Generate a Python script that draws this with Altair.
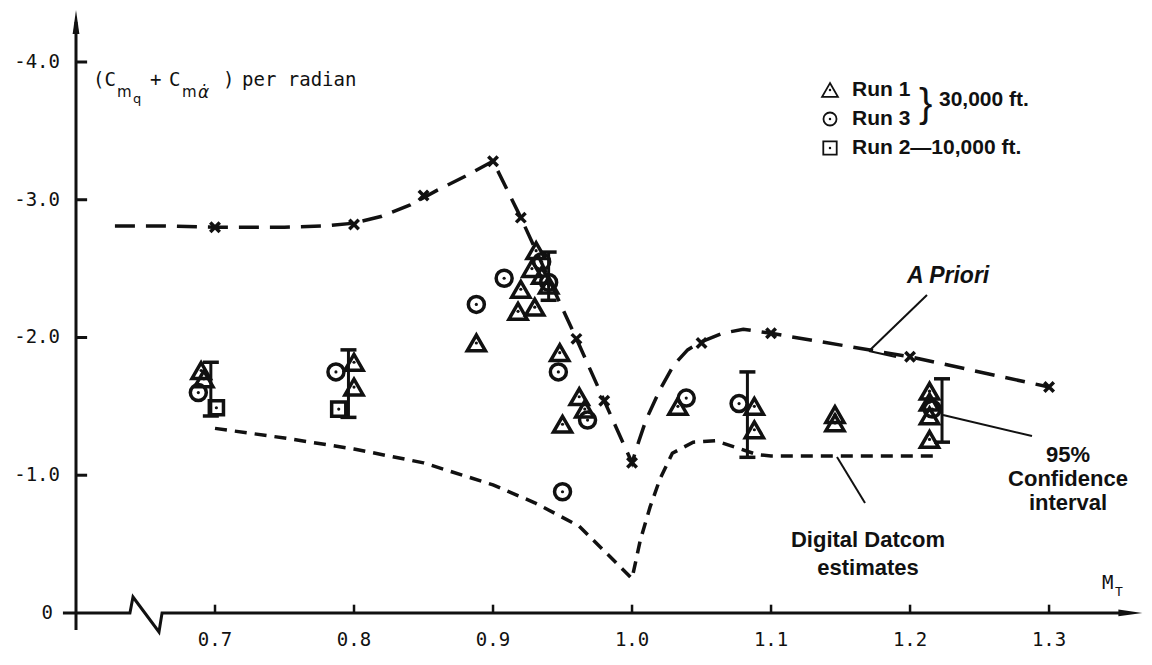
import altair as alt
import pandas as pd

INK = "#111111"

# ---------------- data ----------------
# Run 1 (triangles), 30,000 ft
run1_mach = [0.690, 0.692, 0.800, 0.800, 0.888, 0.918, 0.930, 0.920, 0.931, 0.928, 0.935, 0.940,
             0.948, 0.950, 0.962, 0.966, 1.033, 1.088, 1.088, 1.146, 1.146, 1.214, 1.214, 1.214, 1.214]
run1_cm = [-1.76, -1.70, -1.82, -1.64, -1.96, -2.19, -2.22, -2.35, -2.63, -2.50, -2.45, -2.38,
           -1.89, -1.37, -1.57, -1.48, -1.50, -1.50, -1.33, -1.44, -1.38, -1.61, -1.53, -1.43, -1.26]
# Run 3 (circles), 30,000 ft
run3_mach = [0.688, 0.787, 0.888, 0.908, 0.935, 0.940, 0.947, 0.950, 0.968, 1.039, 1.077, 1.216]
run3_cm = [-1.60, -1.75, -2.24, -2.43, -2.55, -2.40, -1.75, -0.88, -1.40, -1.56, -1.52, -1.48]
# Run 2 (squares), 10,000 ft
run2_mach = [0.701, 0.789]
run2_cm = [-1.49, -1.48]

# 95% confidence intervals
ci_mach = [0.697, 0.796, 0.940, 1.083, 1.223]
ci_low = [-1.43, -1.42, -2.27, -1.13, -1.24]
ci_high = [-1.82, -1.91, -2.62, -1.75, -1.70]

# A Priori curve (long dashes) and its x markers
ap_mach = [0.628, 0.66, 0.70, 0.75, 0.78, 0.80, 0.82, 0.84, 0.86, 0.88, 0.90, 0.92, 0.96, 0.98,
           1.00, 1.005, 1.01, 1.02, 1.03, 1.04, 1.05, 1.065, 1.08, 1.10, 1.20, 1.30]
ap_cm = [-2.81, -2.81, -2.80, -2.80, -2.81, -2.83, -2.88, -2.96, -3.07, -3.17, -3.28, -2.87, -1.99, -1.54,
         -1.09, -1.25, -1.40, -1.62, -1.80, -1.91, -1.97, -2.03, -2.06, -2.03, -1.86, -1.64]
apx_mach = [0.70, 0.80, 0.85, 0.90, 0.92, 0.96, 0.98, 1.00, 1.05, 1.10, 1.20, 1.30]
apx_cm = [-2.80, -2.82, -3.03, -3.28, -2.87, -1.99, -1.54, -1.09, -1.96, -2.03, -1.86, -1.64]

# Digital Datcom estimates (short dashes)
dc_mach = [0.70, 0.75, 0.80, 0.85, 0.90, 0.93, 0.962, 0.989, 1.00, 1.006, 1.013, 1.02, 1.029,
           1.044, 1.06, 1.075, 1.09, 1.10, 1.22]
dc_cm = [-1.34, -1.27, -1.19, -1.09, -0.93, -0.80, -0.63, -0.36, -0.25, -0.53, -0.77, -0.97, -1.16,
         -1.24, -1.25, -1.20, -1.15, -1.14, -1.14]

# axis ticks and labels
x_ticks = [0.7, 0.8, 0.9, 1.0, 1.1, 1.2, 1.3]
x_labels = ["0.7", "0.8", "0.9", "1.0", "1.1", "1.2", "1.3"]
y_ticks = [-4.0, -3.0, -2.0, -1.0]
y_labels = ["-4.0", "-3.0", "-2.0", "-1.0"]

# ---------------- scales ----------------
xs = alt.Scale(domain=[0.6, 1.3683], nice=False, zero=False)
ys = alt.Scale(domain=[-4.392, 0.16], reverse=True, nice=False, zero=False)


def X(f):
    return alt.X(f, type="quantitative", scale=xs, axis=None)


def Y(f):
    return alt.Y(f, type="quantitative", scale=ys, axis=None)


def PX(f):
    return alt.X(f, type="quantitative", scale=None, axis=None)


def PY(f):
    return alt.Y(f, type="quantitative", scale=None, axis=None)


XMARK = "M-1,-1L1,1M-1,1L1,-1"
ARROW_UP = "M0,-1L0.28,1L-0.28,1Z"
ARROW_RIGHT = "M1,0L-1,0.28L-1,-0.28Z"
CAP = "M-1,0L1,0"

layers = []

# ---------------- axes ----------------
axis_path = pd.DataFrame({
    "m": [0.5906, 0.6388, 0.641, 0.6597, 0.6619, 1.355],
    "v": [0.0, 0.0, -0.116, 0.138, 0.0, 0.0],
    "o": [0, 1, 2, 3, 4, 5],
})
layers.append(alt.Chart(axis_path).mark_line(color=INK, strokeWidth=3, strokeJoin="miter").encode(
    x=X("m"), y=Y("v"), order="o:Q"))

yaxis = pd.DataFrame({"m": [0.6], "v1": [0.124], "v2": [-4.29]})
layers.append(alt.Chart(yaxis).mark_rule(color=INK, strokeWidth=3).encode(
    x=X("m"), y=Y("v1"), y2="v2:Q"))

arrows_up = pd.DataFrame({"m": [0.6], "v": [-4.29]})
layers.append(alt.Chart(arrows_up).mark_point(shape=ARROW_UP, filled=True, color=INK, opacity=1, size=576).encode(
    x=X("m"), y=Y("v")))
arrows_r = pd.DataFrame({"m": [1.3585], "v": [0.0]})
layers.append(alt.Chart(arrows_r).mark_point(shape=ARROW_RIGHT, filled=True, color=INK, opacity=1, size=576).encode(
    x=X("m"), y=Y("v")))

xt = pd.DataFrame({"m": x_ticks, "lab": x_labels, "v0": [0.0] * 7, "v1": [-0.06] * 7})
layers.append(alt.Chart(xt).mark_rule(color=INK, strokeWidth=2.5).encode(x=X("m"), y=Y("v0"), y2="v1:Q"))
layers.append(alt.Chart(xt).mark_text(font="DejaVu Sans Mono", fontSize=19, color=INK, dy=27,
                                      align="center", baseline="middle").encode(
    x=X("m"), y=Y("v0"), text="lab:N"))

yt = pd.DataFrame({"v": y_ticks, "lab": y_labels, "m0": [0.6] * 4, "m1": [0.608] * 4})
layers.append(alt.Chart(yt).mark_rule(color=INK, strokeWidth=3).encode(x=X("m0"), x2="m1:Q", y=Y("v")))
layers.append(alt.Chart(yt).mark_text(font="DejaVu Sans Mono", fontSize=19, color=INK, dx=-16,
                                      align="right", baseline="middle").encode(
    x=X("m0"), y=Y("v"), text="lab:N"))
zero_lab = pd.DataFrame({"m": [0.6], "v": [0.0], "lab": ["0"]})
layers.append(alt.Chart(zero_lab).mark_text(font="DejaVu Sans Mono", fontSize=19, color=INK, dx=-23,
                                            align="right", baseline="middle").encode(
    x=X("m"), y=Y("v"), text="lab:N"))

# ---------------- curves ----------------
ap = pd.DataFrame({"m": ap_mach, "v": ap_cm})
layers.append(alt.Chart(ap).mark_line(color=INK, strokeWidth=3.5, strokeDash=[20, 11]).encode(
    x=X("m"), y=Y("v")))
apx = pd.DataFrame({"m": apx_mach, "v": apx_cm})
layers.append(alt.Chart(apx).mark_point(shape=XMARK, filled=False, color=INK, strokeWidth=3.5, opacity=1,
                                        size=90).encode(x=X("m"), y=Y("v")))
dc = pd.DataFrame({"m": dc_mach, "v": dc_cm})
layers.append(alt.Chart(dc).mark_line(color=INK, strokeWidth=3.5, strokeDash=[12, 8]).encode(
    x=X("m"), y=Y("v")))

# ---------------- confidence intervals ----------------
ci = pd.DataFrame({"m": ci_mach, "lo": ci_low, "hi": ci_high})
layers.append(alt.Chart(ci).mark_rule(color=INK, strokeWidth=3).encode(x=X("m"), y=Y("lo"), y2="hi:Q"))
layers.append(alt.Chart(ci).mark_point(shape=CAP, filled=False, color=INK, strokeWidth=3.5, opacity=1,
                                       size=256).encode(x=X("m"), y=Y("lo")))
layers.append(alt.Chart(ci).mark_point(shape=CAP, filled=False, color=INK, strokeWidth=3.5, opacity=1,
                                       size=256).encode(x=X("m"), y=Y("hi")))

# ---------------- data points ----------------
r1 = pd.DataFrame({"m": run1_mach, "v": run1_cm})
r3 = pd.DataFrame({"m": run3_mach, "v": run3_cm})
r2 = pd.DataFrame({"m": run2_mach, "v": run2_cm})
for df, shp, sz in [(r1, "triangle-up", 330), (r3, "circle", 256), (r2, "square", 200)]:
    layers.append(alt.Chart(df).mark_point(shape=shp, filled=False, color=INK, strokeWidth=3.5, opacity=1,
                                           size=sz).encode(x=X("m"), y=Y("v")))
    layers.append(alt.Chart(df).mark_point(shape="circle", filled=True, color=INK, opacity=1,
                                           size=10).encode(x=X("m"), y=Y("v")))

# ---------------- legend (pixel positions inside the plot) ----------------
leg_sym = pd.DataFrame({"px": [754, 754, 754], "py": [82, 111, 140],
                        "shp": ["triangle-up", "circle", "square"]})
for shp, sz in [("triangle-up", 250), ("circle", 170), ("square", 180)]:
    d = leg_sym[leg_sym.shp == shp]
    layers.append(alt.Chart(d).mark_point(shape=shp, filled=False, color=INK, strokeWidth=1.8, opacity=1,
                                          size=sz).encode(x=PX("px"), y=PY("py")))
layers.append(alt.Chart(leg_sym).mark_point(shape="circle", filled=True, color=INK, opacity=1, size=6).encode(
    x=PX("px"), y=PY("py")))

leg_txt = pd.DataFrame({"px": [776, 776, 776], "py": [82, 111, 140],
                        "t": ["Run 1", "Run 3", "Run 2\u201410,000 ft."]})
layers.append(alt.Chart(leg_txt).mark_text(font="Liberation Sans", fontWeight="bold", fontSize=21, color=INK,
                                           align="left", baseline="middle").encode(
    x=PX("px"), y=PY("py"), text="t:N"))
brace = pd.DataFrame({"px": [843], "py": [97], "t": ["}"]})
layers.append(alt.Chart(brace).mark_text(font="Liberation Sans", fontWeight="normal", fontSize=40, color=INK,
                                         align="left", baseline="middle").encode(
    x=PX("px"), y=PY("py"), text="t:N"))
alt_txt = pd.DataFrame({"px": [863], "py": [92], "t": ["30,000 ft."]})
layers.append(alt.Chart(alt_txt).mark_text(font="Liberation Sans", fontWeight="bold", fontSize=21, color=INK,
                                           align="left", baseline="middle").encode(
    x=PX("px"), y=PY("py"), text="t:N"))

# ---------------- y axis title with subscripts ----------------
t_main = pd.DataFrame({"px": [17, 74, 93, 147, 166], "py": [72, 72, 72, 72, 72],
                       "t": ["(C", "+", "C", ")", "per radian"]})
layers.append(alt.Chart(t_main).mark_text(font="DejaVu Sans Mono", fontSize=19, color=INK,
                                          align="left", baseline="middle").encode(
    x=PX("px"), y=PY("py"), text="t:N"))
t_sub = pd.DataFrame({"px": [41, 106], "py": [84, 84], "t": ["m", "m"]})
layers.append(alt.Chart(t_sub).mark_text(font="DejaVu Sans", fontSize=15, color=INK,
                                         align="left", baseline="middle").encode(
    x=PX("px"), y=PY("py"), text="t:N"))
t_sub2 = pd.DataFrame({"px": [57], "py": [91], "t": ["q"]})
layers.append(alt.Chart(t_sub2).mark_text(font="DejaVu Sans", fontSize=13, color=INK,
                                          align="left", baseline="middle").encode(
    x=PX("px"), y=PY("py"), text="t:N"))
t_alpha = pd.DataFrame({"px": [122], "py": [85], "t": ["\u03b1\u0307"]})
layers.append(alt.Chart(t_alpha).mark_text(font="DejaVu Sans", fontSize=17, fontStyle="italic", color=INK,
                                           align="left", baseline="middle").encode(
    x=PX("px"), y=PY("py"), text="t:N"))

# M_T label
mt = pd.DataFrame({"px": [1026], "py": [575], "t": ["M"]})
layers.append(alt.Chart(mt).mark_text(font="DejaVu Sans Mono", fontSize=19, color=INK,
                                      align="left", baseline="middle").encode(
    x=PX("px"), y=PY("py"), text="t:N"))
mts = pd.DataFrame({"px": [1039], "py": [584], "t": ["T"]})
layers.append(alt.Chart(mts).mark_text(font="DejaVu Sans Mono", fontSize=13, color=INK,
                                       align="left", baseline="middle").encode(
    x=PX("px"), y=PY("py"), text="t:N"))

# ---------------- annotations ----------------
apri = pd.DataFrame({"px": [831], "py": [268], "t": ["A Priori"]})
layers.append(alt.Chart(apri).mark_text(font="Liberation Sans", fontWeight="bold", fontStyle="italic",
                                        fontSize=23, color=INK, align="left", baseline="middle").encode(
    x=PX("px"), y=PY("py"), text="t:N"))

ann_c = pd.DataFrame({"px": [992, 992, 992, 792, 792], "py": [447, 471, 495, 532, 560],
                      "t": ["95%", "Confidence", "interval", "Digital Datcom", "estimates"]})
layers.append(alt.Chart(ann_c).mark_text(font="Liberation Sans", fontWeight="bold", fontSize=22, color=INK,
                                         align="center", baseline="middle").encode(
    x=PX("px"), y=PY("py"), text="t:N"))

leaders = pd.DataFrame({
    "x1": [851, 793, 867, 761],
    "y1": [287, 343, 407, 449],
    "x2": [793, 820, 956, 789],
    "y2": [343, 349, 428, 495],
})
layers.append(alt.Chart(leaders).mark_rule(color=INK, strokeWidth=2).encode(
    x=PX("x1"), y=PY("y1"), x2="x2:Q", y2="y2:Q"))

chart = alt.layer(*layers).properties(
    width=1068, height=627,
    autosize=alt.AutoSizeParams(type="none"),
    padding={"left": 68, "top": 0, "right": 0, "bottom": 18},
    background="white",
).configure_view(stroke=None)

chart.save("out.html", embed_options={"renderer": "svg", "actions": False})
